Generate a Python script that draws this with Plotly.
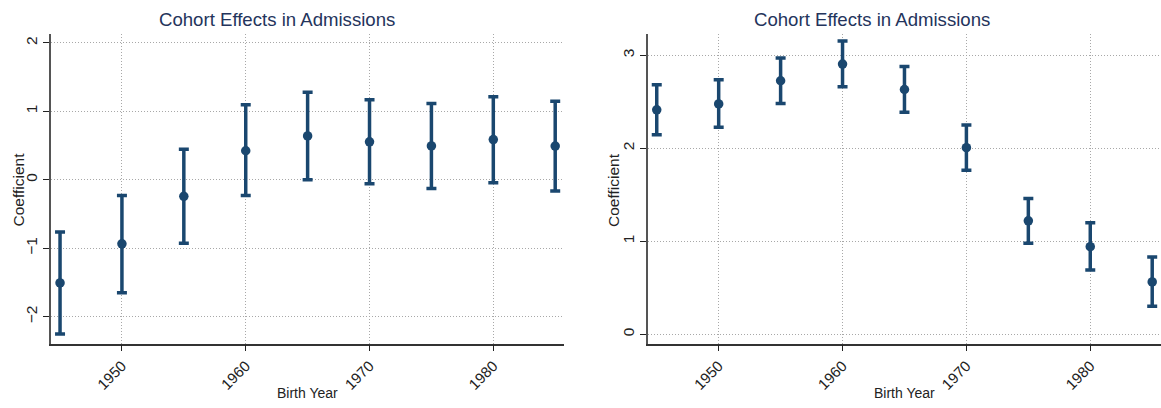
import plotly.graph_objects as go

# Birth-cohort estimates with 95% confidence bounds
years = [1945, 1950, 1955, 1960, 1965, 1970, 1975, 1980, 1985]

left_coef = [-1.505, -0.935, -0.24, 0.425, 0.642, 0.556, 0.495, 0.588, 0.493]
left_upper = [-0.762, -0.23, 0.446, 1.098, 1.28, 1.17, 1.115, 1.215, 1.148]
left_lower = [-2.25, -1.65, -0.927, -0.23, 0.0, -0.058, -0.125, -0.044, -0.162]

right_coef = [2.414, 2.478, 2.727, 2.906, 2.633, 2.007, 1.22, 0.942, 0.563]
right_upper = [2.683, 2.737, 2.971, 3.155, 2.881, 2.252, 1.46, 1.199, 0.83]
right_lower = [2.147, 2.227, 2.482, 2.662, 2.388, 1.763, 0.978, 0.69, 0.30]

x_ticks = [1950, 1960, 1970, 1980]
left_y_ticks = [-2, -1, 0, 1, 2]
right_y_ticks = [0, 1, 2, 3]

title_text = "Cohort Effects in Admissions"
x_title = "Birth Year"
y_title = "Coefficient"

W, H = 1161, 408
NAVY = "#1a476f"
TITLE_C = "#24345c"
FONT = "Liberation Sans, Arial, Helvetica, sans-serif"


def px_x(p):
    return p / W


def px_y(p):
    return 1 - p / H


fig = go.Figure()


def add_series(coef, upper, lower, xa, ya):
    fig.add_trace(go.Scatter(
        x=years, y=coef, mode="markers",
        xaxis=xa, yaxis=ya,
        marker=dict(color=NAVY, size=9.5),
        error_y=dict(
            type="data", symmetric=False,
            array=[u - c for u, c in zip(upper, coef)],
            arrayminus=[c - l for c, l in zip(coef, lower)],
            color=NAVY, thickness=3.5, width=5,
        ),
        showlegend=False, hoverinfo="skip",
    ))


add_series(left_coef, left_upper, left_lower, "x", "y")
add_series(right_coef, right_upper, right_lower, "x2", "y2")

y_dom = [px_y(343.5), px_y(34)]
GRID = dict(showgrid=True, gridcolor="#a8a8a8", griddash="1px,2px", gridwidth=1)

common_x = dict(
    range=[1944.27, 1985.71], tickvals=x_ticks, ticktext=[str(t) for t in x_ticks],
    tickangle=-45, ticks="outside", ticklen=6, tickcolor="#222", tickwidth=1.2,
    showline=True, linecolor="#333", linewidth=1.5,
    zeroline=False, tickfont=dict(family=FONT, size=15, color="#222"),
    **GRID,
)
common_y = dict(
    ticks="outside", ticklen=6, tickcolor="#222", tickwidth=1.2,
    tickangle=-90,
    showline=True, linecolor="#555", linewidth=1.5,
    zeroline=False, tickfont=dict(family=FONT, size=15.5, color="#222"),
    domain=y_dom,
    **GRID,
)

fig.update_layout(
    width=W, height=H,
    margin=dict(l=0, r=0, t=0, b=0),
    paper_bgcolor="white", plot_bgcolor="white",
    xaxis=dict(common_x, domain=[px_x(51), px_x(564)], anchor="y"),
    yaxis=dict(common_y, range=[-2.39, 2.13], tickvals=left_y_ticks, anchor="x"),
    xaxis2=dict(common_x, domain=[px_x(647.7), 1.0], anchor="y2"),
    yaxis2=dict(common_y, range=[-0.1, 3.23], tickvals=right_y_ticks, anchor="x2"),
)

annotations = []
for tx, ax_c, ylab_x in [(277, (51 + 564) / 2, 17.5), (872, (647.7 + 1161) / 2, 613)]:
    annotations.append(dict(
        text=title_text, x=px_x(tx), y=px_y(19), xref="paper", yref="paper",
        xanchor="center", yanchor="middle", showarrow=False,
        font=dict(family=FONT, size=18.6, color=TITLE_C),
    ))
    annotations.append(dict(
        text=x_title, x=px_x(ax_c), y=px_y(393), xref="paper", yref="paper",
        xanchor="center", yanchor="middle", showarrow=False,
        font=dict(family=FONT, size=14, color="#222"),
    ))
    annotations.append(dict(
        text=y_title, x=px_x(ylab_x), y=px_y(190), xref="paper", yref="paper",
        xanchor="center", yanchor="middle", showarrow=False, textangle=-90,
        font=dict(family=FONT, size=15.5, color="#222"),
    ))
fig.update_layout(annotations=annotations)

fig.write_html("out.html")
